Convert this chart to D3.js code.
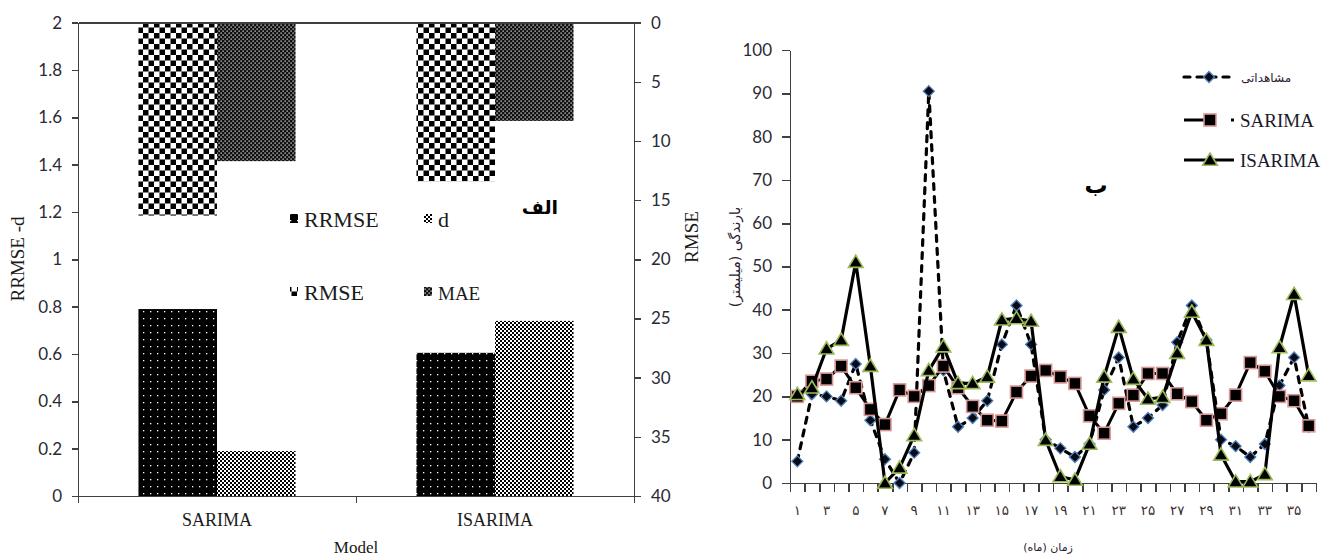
<!DOCTYPE html>
<html><head><meta charset="utf-8">
<script src="https://cdn.jsdelivr.net/npm/d3@7"></script>
<style>
body{margin:0;background:#fff}
svg{display:block}
.ax path,.ax line{stroke:#404040;stroke-width:1.6;shape-rendering:crispEdges}
.ax text{font-family:Lato,"Open Sans",sans-serif;font-size:17px;fill:#2a2a35}
</style>
</head><body>
<svg id="c" width="1322" height="557"></svg>
<script>
// ---------- Panel الف (left) data ----------
const models = ["SARIMA", "ISARIMA"];
const rrmseVals = [0.79, 0.605];
const dVals = [0.19, 0.74];
const rmseVals = [16.3, 13.4];
const maeVals = [11.7, 8.3];
const leftTicks = [0, 0.2, 0.4, 0.6, 0.8, 1, 1.2, 1.4, 1.6, 1.8, 2];
const rightTicks = [0, 5, 10, 15, 20, 25, 30, 35, 40];

// ---------- Panel ب (right) data ----------
const months = d3.range(1, 37);
const observed = [5, 20.5, 20, 19, 27.5, 14.5, 5.5, 0, 7, 90.5, 26, 13, 15, 19, 32, 41, 32, 10, 8, 6, 9, 21.5, 29, 13, 15, 18, 32.5, 41, 33, 10, 8.5, 6, 9, 22.5, 29, 13];
const sarima = [20, 23.5, 24, 27, 22, 17, 13.5, 21.5, 20, 22.5, 27, 22, 17.7, 14.5, 14.3, 21, 24.7, 26, 24.5, 23, 15.5, 11.5, 18.4, 20.3, 25.3, 25.3, 20.6, 18.8, 14.5, 16, 20.3, 27.8, 25.8, 20, 19, 13.2];
const isarima = [20.5, 22, 31, 33, 51, 27, 0, 3.5, 11, 26, 31.5, 23, 23, 24.5, 37.7, 38, 37.4, 9.9, 1.5, 0.7, 9, 24.5, 36, 24, 19.4, 19.8, 30, 39.5, 33, 6.5, 0.3, 0.3, 2, 31.3, 43.6, 24.8];
const rainTicks = [0, 10, 20, 30, 40, 50, 60, 70, 80, 90, 100];
const labelMonths = months.filter(m => m % 2 === 1);

const svg = d3.select("#c");
const defs = svg.append("defs");

// ---------- patterns ----------
function pat(id, w, h, bg, draw) {
  const p = defs.append("pattern").attr("id", id).attr("patternUnits", "userSpaceOnUse")
    .attr("width", w).attr("height", h);
  p.append("rect").attr("width", w).attr("height", h).attr("fill", bg);
  draw(p);
}
pat("pRR", 7, 7, "#000", p => p.append("rect").attr("x", 3).attr("y", 3).attr("width", 1.3).attr("height", 1.3).attr("fill", "#fff"));
pat("pD", 4, 4, "#fff", p => { p.append("rect").attr("x", 0).attr("y", 0).attr("width", 2).attr("height", 2).attr("fill", "#000");
  p.append("rect").attr("x", 2).attr("y", 2).attr("width", 2).attr("height", 2).attr("fill", "#000"); });
pat("pRMSE", 11, 11, "#fff", p => { p.append("rect").attr("x", 0).attr("y", 0).attr("width", 5.5).attr("height", 5.5).attr("fill", "#000");
  p.append("rect").attr("x", 5.5).attr("y", 5.5).attr("width", 5.5).attr("height", 5.5).attr("fill", "#000"); });
pat("pMAE", 4, 4, "#111", p => { p.append("rect").attr("x", 0.5).attr("y", 0.5).attr("width", 1.2).attr("height", 1.2).attr("fill", "#fff");
  p.append("rect").attr("x", 2.5).attr("y", 2.5).attr("width", 1.2).attr("height", 1.2).attr("fill", "#fff"); });

// ================= LEFT PANEL =================
const L = {x0: 78, x1: 634, yTop: 22.7, yBot: 496};
const xCat = d3.scaleBand().domain(models).range([L.x0, L.x1]).padding(0);
const xSub = d3.scaleBand().domain([0, 1]).range([0, xCat.bandwidth()]).paddingInner(0).paddingOuter(0.77);
const yL = d3.scaleLinear().domain([0, 2]).range([L.yBot, L.yTop]);
const yR = d3.scaleLinear().domain([0, 40]).range([L.yTop, L.yBot]);

const gl = svg.append("g");
gl.selectAll(".rr").data(models).join("rect")
  .attr("x", (m) => xCat(m) + xSub(0)).attr("width", xSub.bandwidth())
  .attr("y", (m, i) => yL(rrmseVals[i])).attr("height", (m, i) => yL(0) - yL(rrmseVals[i]))
  .attr("fill", "url(#pRR)");
gl.selectAll(".dd").data(models).join("rect")
  .attr("x", (m) => xCat(m) + xSub(1)).attr("width", xSub.bandwidth())
  .attr("y", (m, i) => yL(dVals[i])).attr("height", (m, i) => yL(0) - yL(dVals[i]))
  .attr("fill", "url(#pD)");
gl.selectAll(".rm").data(models).join("rect")
  .attr("x", (m) => xCat(m) + xSub(0)).attr("width", xSub.bandwidth())
  .attr("y", yR(0)).attr("height", (m, i) => yR(rmseVals[i]) - yR(0))
  .attr("fill", "url(#pRMSE)");
gl.selectAll(".ma").data(models).join("rect")
  .attr("x", (m) => xCat(m) + xSub(1)).attr("width", xSub.bandwidth())
  .attr("y", yR(0)).attr("height", (m, i) => yR(maeVals[i]) - yR(0))
  .attr("fill", "url(#pMAE)");

const fmtL = d => String(+d.toFixed(1));
gl.append("g").attr("class", "ax").attr("transform", `translate(${L.x0},0)`)
  .call(d3.axisLeft(yL).tickValues(leftTicks).tickFormat(fmtL).tickSize(6).tickPadding(10).tickSizeOuter(0));
gl.append("g").attr("class", "ax").attr("transform", `translate(${L.x1},0)`)
  .call(d3.axisRight(yR).tickValues(rightTicks).tickSize(7).tickPadding(10).tickSizeOuter(0));
const xEdgeL = d3.scaleLinear().domain([0, 2]).range([L.x0, L.x1]);
gl.append("g").attr("class", "ax").attr("transform", `translate(0,${L.yBot})`)
  .call(d3.axisBottom(xEdgeL).tickValues([0, 1, 2]).tickFormat("").tickSize(7).tickSizeOuter(0));
gl.append("g").attr("class", "ax").attr("transform", `translate(0,${L.yTop})`)
  .call(d3.axisTop(xEdgeL).tickValues([]).tickSizeOuter(0));
const catAx = gl.append("g").attr("class", "ax").attr("transform", `translate(0,${L.yBot})`)
  .call(d3.axisBottom(xCat).tickSize(0).tickPadding(17));
catAx.select(".domain").remove();
catAx.selectAll("text").style("font-family", "'Liberation Serif',serif").style("font-size", "18px").style("fill", "#1a1a1a");

gl.append("text").attr("x", 356).attr("y", 553).attr("text-anchor", "middle")
  .style("font-family", "'Liberation Serif',serif").style("font-size", "17px").style("fill", "#1a1a1a").text("Model");
gl.append("text").attr("transform", "translate(24,259) rotate(-90)").attr("text-anchor", "middle")
  .style("font-family", "'Liberation Serif',serif").style("font-size", "19px").style("fill", "#1a1a1a").text("RRMSE -d");
gl.append("text").attr("transform", "translate(698,237) rotate(-90)").attr("text-anchor", "middle")
  .style("font-family", "'Liberation Serif',serif").style("font-size", "19px").style("fill", "#1a1a1a").text("RMSE");

const legL = [
  {name: "RRMSE", fill: "url(#pRR)", x: 290, y: 227, size: 22},
  {name: "d", fill: "url(#pD)", x: 424, y: 227, size: 22},
  {name: "RMSE", fill: "url(#pRMSE)", x: 290, y: 300, size: 22},
  {name: "MAE", fill: "url(#pMAE)", x: 424, y: 300, size: 19}
];
const lg = gl.selectAll(".legL").data(legL).join("g");
lg.append("rect").attr("x", d => d.x).attr("y", d => d.y - 13).attr("width", 8).attr("height", 9)
  .attr("fill", d => d.fill);
lg.append("text").attr("x", d => d.x + 14).attr("y", d => d.y)
  .style("font-family", "'Liberation Serif',serif").style("font-size", d => d.size + "px").style("fill", "#1a1a1a")
  .text(d => d.name);
gl.append("text").attr("x", 540).attr("y", 214).attr("text-anchor", "middle")
  .style("font-family", "'DejaVu Sans',sans-serif").style("font-weight", "bold").style("font-size", "19px")
  .text("الف");

// ================= RIGHT PANEL =================
const R = {x0: 790, x1: 1316, yTop: 50, yBot: 483};
const x = d3.scaleBand().domain(months).range([R.x0, R.x1]).padding(0);
const y = d3.scaleLinear().domain([0, 100]).range([R.yBot, R.yTop]);
const gr = svg.append("g");

const toFa = n => String(n).replace(/\d/g, c => "۰۱۲۳۴۵۶۷۸۹"[+c]);

gr.append("g").attr("class", "ax").attr("transform", `translate(${R.x0},0)`)
  .call(d3.axisLeft(y).tickValues(rainTicks).tickSize(8).tickPadding(10).tickSizeOuter(0));
const xEdge = d3.scaleLinear().domain([0, 36]).range([R.x0, R.x1]);
gr.append("g").attr("class", "ax").attr("transform", `translate(0,${R.yBot})`)
  .call(d3.axisBottom(xEdge).tickValues(d3.range(0, 37)).tickFormat("").tickSize(9).tickSizeOuter(0));
const mAx = gr.append("g").attr("class", "ax").attr("transform", `translate(0,${R.yBot})`)
  .call(d3.axisBottom(x).tickValues(labelMonths).tickFormat(toFa).tickSize(0).tickPadding(22));
mAx.select(".domain").remove();
mAx.selectAll("text").style("font-family", "'DejaVu Sans',sans-serif").style("font-size", "13.5px").style("fill", "#3a3030");

gr.append("text").attr("transform", "translate(740,257) rotate(-90)").attr("text-anchor", "middle")
  .style("font-family", "'DejaVu Sans',sans-serif").style("font-size", "14px").style("fill", "#2a2030")
  .text("بارندگی (میلیمتر)");
gr.append("text").attr("x", 1048).attr("y", 551).attr("text-anchor", "middle")
  .style("font-family", "'DejaVu Sans',sans-serif").style("font-size", "11px").style("fill", "#2a2030")
  .text("زمان (ماه)");
gr.append("text").attr("x", 1096).attr("y", 193).attr("text-anchor", "middle")
  .style("font-family", "'DejaVu Sans',sans-serif").style("font-weight", "bold").style("font-size", "23px")
  .text("ب");

const cx = m => x(m) + x.bandwidth() / 2;
const line = d3.line().x((v, i) => cx(months[i])).y(v => y(v));

const diamond = r => `M0,${-r}L${r},0L0,${r}L${-r},0Z`;
const tri = r => `M0,${-r}L${r * 1.05},${r * 0.75}L${-r * 1.05},${r * 0.75}Z`;

// observed
gr.append("path").attr("d", line(observed))
  .attr("fill", "none").attr("stroke", "#000").attr("stroke-width", 3.2)
  .attr("stroke-dasharray", "6,7").attr("stroke-linecap", "round").attr("stroke-linejoin", "round");
gr.selectAll(".ob").data(observed).join("path")
  .attr("transform", (v, i) => `translate(${cx(months[i])},${y(v)})`)
  .attr("d", diamond(5.5)).attr("fill", "#0a0a14").attr("stroke", "#4f81bd").attr("stroke-width", 1.3);

// SARIMA
gr.append("path").attr("d", line(sarima))
  .attr("fill", "none").attr("stroke", "#000").attr("stroke-width", 3).attr("stroke-linejoin", "round");
gr.selectAll(".sa").data(sarima).join("rect")
  .attr("x", (v, i) => cx(months[i]) - 6).attr("y", v => y(v) - 6).attr("width", 12).attr("height", 12)
  .attr("fill", "#000").attr("stroke", "#d99694").attr("stroke-width", 1.6);

// ISARIMA
gr.append("path").attr("d", line(isarima))
  .attr("fill", "none").attr("stroke", "#000").attr("stroke-width", 3.2).attr("stroke-linejoin", "round");
gr.selectAll(".is").data(isarima).join("path")
  .attr("transform", (v, i) => `translate(${cx(months[i])},${y(v)})`)
  .attr("d", tri(7)).attr("fill", "#000").attr("stroke", "#9bbb59").attr("stroke-width", 1.6);

// legend (right)
const lgR = gr.append("g");
lgR.append("line").attr("x1", 1184).attr("x2", 1231).attr("y1", 77).attr("y2", 77)
  .attr("stroke", "#000").attr("stroke-width", 3.2).attr("stroke-dasharray", "6,7").attr("stroke-linecap", "round");
lgR.append("path").attr("transform", "translate(1209,77)").attr("d", diamond(5.5))
  .attr("fill", "#0a0a14").attr("stroke", "#4f81bd").attr("stroke-width", 1.3);
lgR.append("text").attr("x", 1241).attr("y", 82)
  .style("font-family", "'DejaVu Sans',sans-serif").style("font-size", "12px").style("fill", "#2a2030").text("مشاهداتی");

lgR.append("line").attr("x1", 1184).attr("x2", 1210).attr("y1", 120).attr("y2", 120)
  .attr("stroke", "#000").attr("stroke-width", 3);
lgR.append("rect").attr("x", 1204).attr("y", 114).attr("width", 12).attr("height", 12)
  .attr("fill", "#000").attr("stroke", "#d99694").attr("stroke-width", 1.6);
lgR.append("rect").attr("x", 1231).attr("y", 118.5).attr("width", 3).attr("height", 3).attr("fill", "#000");
lgR.append("text").attr("x", 1240).attr("y", 127)
  .style("font-family", "'Liberation Serif',serif").style("font-size", "19px").style("fill", "#1a1a2a").text("SARIMA");

lgR.append("line").attr("x1", 1184).attr("x2", 1234).attr("y1", 160).attr("y2", 160)
  .attr("stroke", "#000").attr("stroke-width", 3.2);
lgR.append("path").attr("transform", "translate(1210,160)").attr("d", tri(7))
  .attr("fill", "#000").attr("stroke", "#9bbb59").attr("stroke-width", 1.6);
lgR.append("text").attr("x", 1240).attr("y", 167)
  .style("font-family", "'Liberation Serif',serif").style("font-size", "19px").style("fill", "#1a1a2a").text("ISARIMA");
</script>
</body></html>
